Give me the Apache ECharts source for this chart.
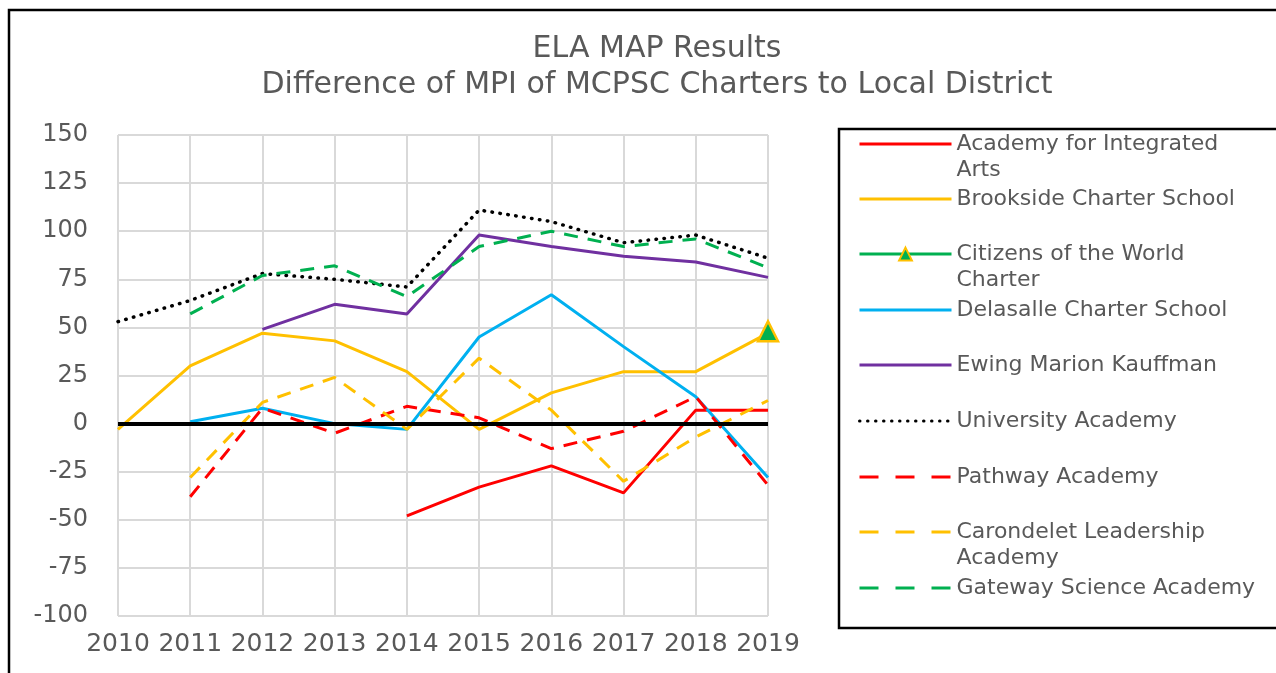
<!DOCTYPE html>
<html>
<head>
<meta charset="utf-8">
<script src="https://cdn.jsdelivr.net/npm/echarts@6/dist/echarts.min.js"></script>
<style>
  html, body { margin: 0; padding: 0; background: #fff; }
  #chart { width: 1276px; height: 673px; }
</style>
</head>
<body>
<div id="chart"></div>
<script>
const years = ["2010", "2011", "2012", "2013", "2014", "2015", "2016", "2017", "2018", "2019"];

const integratedArts = [null, null, null, null, -48, -33, -22, -36, 7, 7];
const brookside = [-3, 30, 47, 43, 27, -3, 16, 27, 27, 47];
const citizens = [null, null, null, null, null, null, null, null, null, 48];
const delasalle = [null, 1, 8, 0, -3, 45, 67, 40, 14, -28];
const kauffman = [null, null, 49, 62, 57, 98, 92, 87, 84, 76];
const university = [53, 64, 78, 75, 71, 111, 105, 94, 98, 86];
const pathway = [null, -38, 8, -5, 9, 3, -13, -4, 14, -32];
const carondelet = [null, -28, 11, 24, -3, 34, 7, -30, -7, 12];
const gateway = [null, 57, 77, 82, 66, 92, 100, 92, 96, 81];

const yTicks = [-100, -75, -50, -25, 0, 25, 50, 75, 100, 125, 150];

const font = "DejaVu Sans";
const gray = "#595959";

// legend text with wrapping, blank first line keeps icon on first text line
const legendText = {
  "Academy for Integrated Arts": "\nAcademy for Integrated\nArts",
  "Citizens of the World Charter": "\nCitizens of the World\nCharter",
  "Carondelet Leadership Academy": "\nCarondelet Leadership\nAcademy"
};

const dash = [14, 10];

function line(name, data, color, type, extra) {
  return Object.assign({
    name: name,
    type: "line",
    data: data,
    symbol: "none",
    connectNulls: false,
    lineStyle: { color: color, width: 3, type: type || "solid" },
    itemStyle: { color: color },
    z: 3
  }, extra || {});
}

const series = [
  line("Academy for Integrated Arts", integratedArts, "#FF0000"),
  line("Brookside Charter School", brookside, "#FFC000"),
  line("Citizens of the World Charter", citizens, "#00B050", "solid", {
    symbol: "triangle",
    symbolSize: 20,
    itemStyle: { color: "#00B050", borderColor: "#FFC000", borderWidth: 2.5 },
    z: 5
  }),
  line("Delasalle Charter School", delasalle, "#00B0F0"),
  line("Ewing Marion Kauffman", kauffman, "#7030A0"),
  line("University Academy", university, "#000000", "dotted", {
    lineStyle: { color: "#000", width: 3.5, type: [0.5, 7.5], cap: "round" }
  }),
  line("Pathway Academy", pathway, "#FF0000", dash),
  line("Carondelet Leadership Academy", carondelet, "#FFC000", dash),
  line("Gateway Science Academy", gateway, "#00B050", dash)
];

// zero line
series[0].markLine = {
  silent: true,
  symbol: "none",
  label: { show: false },
  lineStyle: { color: "#000", width: 4, type: "solid" },
  data: [{ yAxis: 0 }]
};

const centers = [144, 199, 254, 310, 365, 421, 477, 532, 588];
const legends = series.map((s, i) => {
  const wrapped = !!legendText[s.name];
  const h = wrapped ? 78 : 26;
  const hasSymbol = s.symbol !== "none";
  const ls = { width: 3 };
  if (s.lineStyle.type === dash) ls.type = [19, 17];
  return {
    data: [s.name],
    left: 858,
    top: centers[i] - h / 2,
    padding: 0,
    itemWidth: 92,
    itemHeight: 16,
    itemGap: 10,
    formatter: (n) => legendText[n] || n,
    lineStyle: ls,
    itemStyle: hasSymbol ? {} : { opacity: 0, borderWidth: 0 },
    textStyle: { fontFamily: font, fontSize: 22, color: gray, lineHeight: 26 },
    selectedMode: false
  };
});

const chart = echarts.init(document.getElementById("chart"), null, { renderer: "canvas" });

chart.setOption({
  animation: false,
  backgroundColor: "#fff",
  title: {
    text: "ELA MAP Results\nDifference of MPI of MCPSC Charters to Local District",
    left: 652,
    textAlign: "center",
    top: 26,
    textStyle: { fontFamily: font, fontSize: 30, fontWeight: "normal", color: gray, lineHeight: 36 }
  },
  grid: { left: 118, right: 508, top: 135, bottom: 57, containLabel: false },
  xAxis: {
    type: "category",
    data: years,
    boundaryGap: false,
    axisLine: { show: false },
    axisTick: { show: false },
    splitLine: { show: true, lineStyle: { color: "#D9D9D9", width: 2 } },
    axisLabel: { fontFamily: font, fontSize: 25, color: gray, margin: 16, interval: 0 }
  },
  yAxis: {
    type: "value",
    min: yTicks[0],
    max: yTicks[yTicks.length - 1],
    interval: 25,
    axisLine: { show: false },
    axisTick: { show: false },
    splitLine: { lineStyle: { color: "#D9D9D9", width: 2 } },
    axisLabel: { fontFamily: font, fontSize: 24, color: gray, margin: 30 }
  },
  legend: legends,
  graphic: [
    {
      type: "rect",
      shape: { x: 9, y: 10, width: 1300, height: 700 },
      style: { fill: "none", stroke: "#000", lineWidth: 2.5 },
      silent: true
    },
    {
      type: "rect",
      shape: { x: 839, y: 129, width: 460, height: 499 },
      style: { fill: "none", stroke: "#000", lineWidth: 2.5 },
      silent: true
    }
  ],
  series: series
});
</script>
</body>
</html>
